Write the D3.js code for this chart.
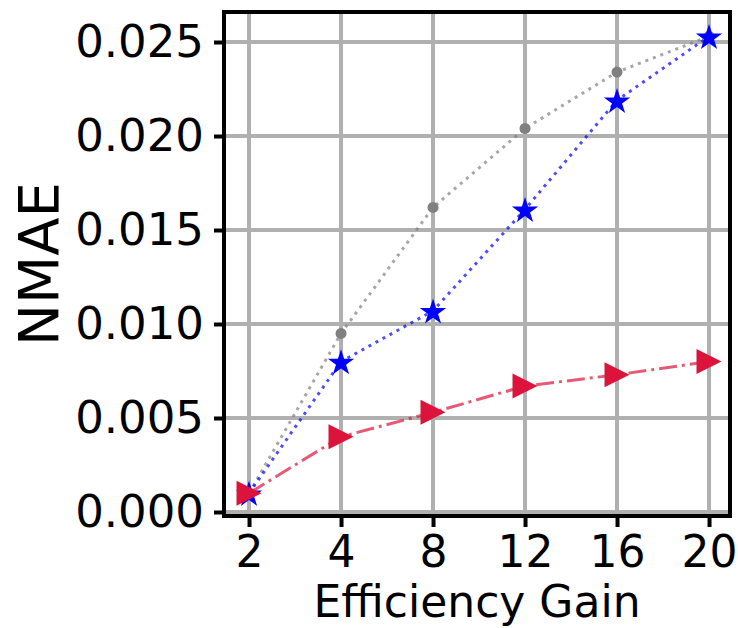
<!DOCTYPE html>
<html>
<head>
<meta charset="utf-8">
<script src="https://cdn.jsdelivr.net/npm/d3@7"></script>
<style>
  html, body { margin: 0; padding: 0; background: #fff; }
  svg { display: block; font-family: 'DejaVu Sans', sans-serif; }
</style>
</head>
<body>
<div id="chart"></div>
<script>
const categories = ['2', '4', '8', '12', '16', '20']
const grayValues = [0.0010, 0.0095, 0.0162, 0.0204, 0.0234, 0.0253]
const blueValues = [0.0010, 0.0080, 0.0107, 0.0161, 0.0219, 0.0253]
const redValues = [0.0010, 0.0040, 0.0053, 0.0067, 0.0073, 0.0080]
const yTicks = [0.000, 0.005, 0.010, 0.015, 0.020, 0.025]

const width = 738
const height = 628
const frame = { left: 224, right: 730, top: 12, bottom: 516 }

const svg = d3.select('#chart')
  .append('svg')
  .attr('width', width)
  .attr('height', height)

const x = d3.scaleLinear()
  .domain([-0.272, categories.length - 1 + 0.228])
  .range([frame.left, frame.right])

const y = d3.scaleLinear()
  .domain([-0.000213, 0.026596])
  .range([frame.bottom, frame.top])

// grid
const grid = svg.append('g').attr('stroke', '#b0b0b0').attr('stroke-width', 4)
grid.selectAll('.vgrid')
  .data(categories)
  .enter()
  .append('line')
  .attr('x1', (d, i) => x(i))
  .attr('x2', (d, i) => x(i))
  .attr('y1', frame.top)
  .attr('y2', frame.bottom)
grid.selectAll('.hgrid')
  .data(yTicks)
  .enter()
  .append('line')
  .attr('x1', frame.left)
  .attr('x2', frame.right)
  .attr('y1', (d) => y(d))
  .attr('y2', (d) => y(d))

// series
const series = [
  { values: grayValues, color: '#808080', dash: '3,5', marker: 'circle' },
  { values: blueValues, color: '#0000ff', dash: '3,5', marker: 'star' },
  { values: redValues, color: '#dc143c', dash: '18,5,3,5', marker: 'tri' },
]

const line = d3.line()
  .x((d, i) => x(i))
  .y((d) => y(d))

const star = d3.symbol().type(d3.symbolStar).size(215)
const tri = (s) => `M${s / 2},0L${-s / 2},${-s / 2}L${-s / 2},${s / 2}Z`

series.forEach((s) => {
  const g = svg.append('g')
  g.append('path')
    .datum(s.values)
    .attr('d', line)
    .attr('fill', 'none')
    .attr('stroke', s.color)
    .attr('stroke-width', 3)
    .attr('stroke-opacity', 0.7)
    .attr('stroke-dasharray', s.dash)

  const pts = g.selectAll('.pt')
    .data(s.values)
    .enter()
  if (s.marker === 'circle') {
    pts.append('circle')
      .attr('cx', (d, i) => x(i))
      .attr('cy', (d) => y(d))
      .attr('r', 5.5)
      .attr('fill', s.color)
  } else if (s.marker === 'star') {
    pts.append('path')
      .attr('d', star)
      .attr('transform', (d, i) => `translate(${x(i)},${y(d) + 1.5})`)
      .attr('fill', s.color)
  } else {
    pts.append('path')
      .attr('d', tri(25))
      .attr('transform', (d, i) => `translate(${x(i)},${y(d)})`)
      .attr('fill', s.color)
  }
})

// spines
svg.append('rect')
  .attr('x', frame.left)
  .attr('y', frame.top)
  .attr('width', frame.right - frame.left)
  .attr('height', frame.bottom - frame.top)
  .attr('fill', 'none')
  .attr('stroke', 'black')
  .attr('stroke-width', 4)

// axes
const xAxis = d3.axisBottom(x)
  .tickValues(d3.range(categories.length))
  .tickFormat((i) => categories[i])
  .tickSizeInner(9)
  .tickSizeOuter(0)
  .tickPadding(9)
const gx = svg.append('g')
  .attr('transform', `translate(0,${frame.bottom + 2})`)
  .call(xAxis)
gx.select('.domain').remove()
gx.selectAll('line').attr('stroke', 'black').attr('stroke-width', 4)
gx.selectAll('text').attr('font-size', 44).attr('fill', '#000')
  .attr('font-family', "'DejaVu Sans', sans-serif")

const yAxis = d3.axisLeft(y)
  .tickValues(yTicks)
  .tickFormat(d3.format('.3f'))
  .tickSizeInner(8)
  .tickSizeOuter(0)
  .tickPadding(10)
const gy = svg.append('g')
  .attr('transform', `translate(${frame.left - 2},0)`)
  .call(yAxis)
gy.select('.domain').remove()
gy.selectAll('line').attr('stroke', 'black').attr('stroke-width', 4)
gy.selectAll('text').attr('font-size', 45).attr('fill', '#000')
  .attr('font-family', "'DejaVu Sans', sans-serif")

// labels
svg.append('text')
  .attr('x', (frame.left + frame.right) / 2)
  .attr('y', 617)
  .attr('text-anchor', 'middle')
  .attr('font-size', 44)
  .text('Efficiency Gain')

svg.append('text')
  .attr('transform', `translate(58,${(frame.top + frame.bottom) / 2}) rotate(-90)`)
  .attr('text-anchor', 'middle')
  .attr('font-size', 56)
  .text('NMAE')
</script>
</body>
</html>
